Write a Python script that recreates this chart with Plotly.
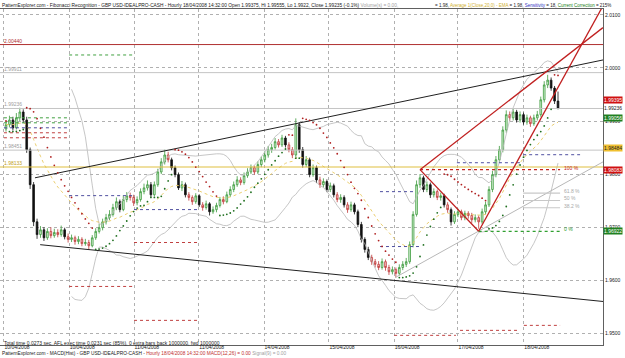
import plotly.graph_objects as go
import numpy as np

# ---------------- data ----------------
bar_index = list(range(161))
opens = [1.9885,1.9893,1.9902,1.9887,1.9906,1.9917,1.9902,1.9846,1.9780,1.9710,
1.9686,1.9695,1.9680,1.9692,1.9684,1.9690,1.9686,1.9695,1.9682,1.9677,
1.9680,1.9673,1.9677,1.9669,1.9671,1.9665,1.9680,1.9692,1.9699,1.9710,
1.9718,1.9724,1.9737,1.9748,1.9733,1.9752,1.9759,1.9756,1.9746,1.9752,
1.9767,1.9774,1.9780,1.9761,1.9780,1.9804,1.9823,1.9836,1.9827,1.9812,
1.9799,1.9774,1.9780,1.9761,1.9756,1.9748,1.9759,1.9742,1.9737,1.9744,
1.9729,1.9733,1.9741,1.9752,1.9748,1.9761,1.9771,1.9780,1.9789,1.9784,
1.9797,1.9804,1.9812,1.9804,1.9818,1.9827,1.9836,1.9846,1.9850,1.9861,
1.9855,1.9868,1.9855,1.9846,1.9836,1.9893,1.9846,1.9818,1.9827,1.9799,
1.9812,1.9789,1.9780,1.9786,1.9771,1.9778,1.9761,1.9752,1.9756,1.9742,
1.9733,1.9742,1.9729,1.9705,1.9677,1.9658,1.9643,1.9635,1.9630,1.9624,
1.9635,1.9624,1.9616,1.9620,1.9613,1.9624,1.9630,1.9635,1.9667,1.9724,
1.9780,1.9793,1.9771,1.9780,1.9761,1.9767,1.9756,1.9759,1.9742,1.9733,
1.9710,1.9724,1.9729,1.9718,1.9726,1.9722,1.9714,1.9718,1.9710,1.9729,
1.9742,1.9771,1.9799,1.9827,1.9846,1.9883,1.9912,1.9906,1.9917,1.9902,
1.9912,1.9898,1.9906,1.9895,1.9906,1.9912,1.9940,1.9968,1.9977,1.9962,
1.99375]
closes = [1.9893,1.9902,1.9887,1.9906,1.9917,1.9902,1.9846,1.9780,1.9710,1.9686,
1.9695,1.9680,1.9692,1.9684,1.9690,1.9686,1.9695,1.9682,1.9677,1.9680,
1.9673,1.9677,1.9669,1.9671,1.9665,1.9680,1.9692,1.9699,1.9710,1.9718,
1.9724,1.9737,1.9748,1.9733,1.9752,1.9759,1.9756,1.9746,1.9752,1.9767,
1.9774,1.9780,1.9761,1.9780,1.9804,1.9823,1.9836,1.9827,1.9812,1.9799,
1.9774,1.9780,1.9761,1.9756,1.9748,1.9759,1.9742,1.9737,1.9744,1.9729,
1.9733,1.9741,1.9752,1.9748,1.9761,1.9771,1.9780,1.9789,1.9784,1.9797,
1.9804,1.9812,1.9804,1.9818,1.9827,1.9836,1.9846,1.9850,1.9861,1.9855,
1.9868,1.9855,1.9846,1.9836,1.9893,1.9846,1.9818,1.9827,1.9799,1.9812,
1.9789,1.9780,1.9786,1.9771,1.9778,1.9761,1.9752,1.9756,1.9742,1.9733,
1.9742,1.9729,1.9705,1.9677,1.9658,1.9643,1.9635,1.9630,1.9624,1.9635,
1.9624,1.9616,1.9620,1.9613,1.9624,1.9630,1.9635,1.9667,1.9724,1.9780,
1.9793,1.9771,1.9780,1.9761,1.9767,1.9756,1.9759,1.9742,1.9733,1.9710,
1.9724,1.9729,1.9718,1.9726,1.9722,1.9714,1.9718,1.9710,1.9729,1.9742,
1.9771,1.9799,1.9827,1.9846,1.9883,1.9912,1.9906,1.9917,1.9902,1.9912,
1.9898,1.9906,1.9895,1.9906,1.9912,1.9940,1.9968,1.9977,1.9962,1.99375,
1.99235]
highs = [1.9900,1.9910,1.9908,1.9915,1.9925,1.9922,1.9908,1.9850,1.9785,1.9716,
1.9702,1.9700,1.9698,1.9700,1.9697,1.9696,1.9703,1.9699,1.9688,1.9686,
1.9684,1.9683,1.9681,1.9678,1.9676,1.9685,1.9698,1.9706,1.9716,1.9725,
1.9732,1.9744,1.9756,1.9752,1.9760,1.9766,1.9765,1.9761,1.9758,1.9773,
1.9782,1.9788,1.9785,1.9786,1.9810,1.9830,1.9846,1.9842,1.9831,1.9816,
1.9803,1.9787,1.9784,1.9766,1.9760,1.9764,1.9762,1.9747,1.9750,1.9747,
1.9739,1.9746,1.9757,1.9758,1.9767,1.9777,1.9786,1.9796,1.9794,1.9803,
1.9811,1.9818,1.9816,1.9824,1.9833,1.9843,1.9853,1.9857,1.9868,1.9866,
1.9874,1.9872,1.9860,1.9851,1.9905,1.9898,1.9851,1.9834,1.9831,1.9818,
1.9816,1.9795,1.9792,1.9790,1.9784,1.9782,1.9766,1.9762,1.9760,1.9747,
1.9748,1.9746,1.9733,1.9710,1.9681,1.9663,1.9648,1.9640,1.9636,1.9641,
1.9639,1.9629,1.9626,1.9624,1.9630,1.9636,1.9642,1.9673,1.9730,1.9788,
1.9800,1.9797,1.9786,1.9784,1.9773,1.9771,1.9765,1.9763,1.9747,1.9737,
1.9730,1.9735,1.9733,1.9731,1.9730,1.9727,1.9724,1.9722,1.9735,1.9748,
1.9777,1.9806,1.9834,1.9853,1.9890,1.9920,1.9918,1.9923,1.9921,1.9918,
1.9916,1.9912,1.9910,1.9912,1.9919,1.9946,1.9975,1.9987,1.9982,1.9966,
1.99555]
lows = [1.9880,1.9888,1.9882,1.9884,1.9900,1.9896,1.9840,1.9772,1.9702,1.9678,
1.9680,1.9674,1.9676,1.9679,1.9680,1.9681,1.9682,1.9677,1.9671,1.9672,
1.9667,1.9668,1.9664,1.9665,1.9658,1.9662,1.9676,1.9688,1.9694,1.9705,
1.9713,1.9720,1.9732,1.9728,1.9730,1.9747,1.9750,1.9740,1.9741,1.9748,
1.9762,1.9769,1.9756,1.9758,1.9776,1.9800,1.9818,1.9822,1.9807,1.9794,
1.9770,1.9768,1.9756,1.9750,1.9742,1.9744,1.9738,1.9731,1.9733,1.9722,
1.9725,1.9728,1.9737,1.9743,1.9745,1.9757,1.9766,1.9776,1.9779,1.9780,
1.9793,1.9800,1.9799,1.9800,1.9813,1.9822,1.9831,1.9840,1.9846,1.9850,
1.9851,1.9850,1.9841,1.9830,1.9832,1.9840,1.9812,1.9813,1.9794,1.9795,
1.9783,1.9774,1.9775,1.9766,1.9766,1.9756,1.9747,1.9746,1.9737,1.9727,
1.9729,1.9724,1.9700,1.9671,1.9652,1.9638,1.9629,1.9624,1.9619,1.9620,
1.9618,1.9610,1.9611,1.9605,1.9609,1.9619,1.9625,1.9631,1.9662,1.9720,
1.9774,1.9766,1.9766,1.9755,1.9756,1.9751,1.9750,1.9737,1.9727,1.9703,
1.9706,1.9719,1.9713,1.9713,1.9716,1.9708,1.9709,1.9697,1.9706,1.9724,
1.9738,1.9766,1.9794,1.9822,1.9841,1.9878,1.9900,1.9901,1.9897,1.9897,
1.9893,1.9893,1.9889,1.9891,1.9901,1.9908,1.9935,1.9962,1.9957,1.9932,
1.9922]

date_pos = [-0.6, 18.3, 37.1, 55.9, 74.8, 93.6, 112.5, 131.0, 150.1]
date_labels = ["10/04/2008", "10/04/2008", "11/04/2008", "11/04/2008", "14/04/2008",
               "15/04/2008", "16/04/2008", "17/04/2008", "18/04/2008"]
price_ticks = [1.95, 1.96, 1.97, 1.98, 1.99, 2.00, 2.01]

# trend channel (bar index, price)
upper_line = ([8.4, 173.04], [1.9793, 2.0015])
lower_line = ([9.9, 173.04], [1.9667, 1.9560])
# fibonacci swing and projections
fib_high = (120, 1.98083)
fib_low = (137, 1.96922)
proj_from_high_end = (173.04, 2.0076)
proj_from_low_end = (173.04, 2.0117)
fib_levels = [1.0, 0.618, 0.5, 0.382, 0.0]
fib_names = ["100 %", "61.8 %", "50 %", "38.2 %", "0 %"]
gray_ray = ([112.8, 173.04], [1.9605, 1.9823])

# horizontal reference levels
level_red = 2.00440
level_yellow = 1.98133
levels_gray = [1.99911, 1.98451]
last_price = 1.99236

# daily pivot segments: start bar, end bar, price, kind
pivot_start = [-0.6, -0.6, -0.6, -0.6, -0.6, 18.3, 18.3, 18.3, 37.1, 37.1, 37.1,
               108.4, 108.4, 112.5, 130.7, 149.9, 131.6, 150.1]
pivot_end = [18.3, 18.3, 18.3, 18.3, 18.3, 37.1, 37.1, 37.1, 55.9, 55.9, 55.9,
             118.0, 120.0, 130.4, 149.9, 166.4, 149.0, 160.6]
pivot_price = [1.99060, 1.98966, 1.98872, 1.98778, 1.98684, 2.00244, 1.97594, 1.95883,
               1.97331, 1.96711, 1.95244, 1.97669, 1.96635, 1.94962, 1.98214, 1.98365,
               1.95056, 1.95150]
pivot_kind = ["R", "R", "P", "S", "S", "R", "P", "S", "P", "S", "S", "P", "P", "S", "P", "P", "S", "S"]
pivot_colors = {"R": "#40a040", "P": "#5050a0", "S": "#c04040"}

# right-axis price boxes
box_prices = [1.99395, 1.99236, 1.99056, 1.98484, 1.98083, 1.96922]
box_kind = ["red", "plain", "green", "yellow", "red", "green"]

# ---------------- derived indicators ----------------
c = np.array(closes); h = np.array(highs); l = np.array(lows); o = np.array(opens)
n = len(c)
win = 20
up = np.full(n, np.nan); dn = np.full(n, np.nan)
for i in range(win - 1, n):
    seg = c[i - win + 1:i + 1]
    m = seg.mean(); sd = seg.std()
    up[i] = m + 2 * sd; dn[i] = m - 2 * sd
ema = np.zeros(n); k = 2 / (win + 1); ema[0] = c[0]
for i in range(1, n):
    ema[i] = c[i] * k + ema[i - 1] * (1 - k)

sar = np.zeros(n); trend = np.zeros(n, dtype=int)
af = 0.02; bull = False; ep = l[0]; sar[0] = h[0]; trend[0] = -1
for i in range(1, n):
    s = sar[i - 1] + af * (ep - sar[i - 1])
    if bull:
        s = min(s, l[i - 1], l[max(i - 2, 0)])
        if l[i] < s:
            bull = False; s = ep; ep = l[i]; af = 0.02
        elif h[i] > ep:
            ep = h[i]; af = min(af + 0.02, 0.2)
    else:
        s = max(s, h[i - 1], h[max(i - 2, 0)])
        if h[i] > s:
            bull = True; s = ep; ep = h[i]; af = 0.02
        elif l[i] < ep:
            ep = l[i]; af = min(af + 0.02, 0.2)
    sar[i] = s; trend[i] = 1 if bull else -1

# ---------------- figure ----------------
fig = go.Figure()
xr = [-1.74, 173.04]
NONE = dict(hoverinfo="skip")

for band in (up, dn):
    fig.add_trace(go.Scatter(x=bar_index, y=band, mode="lines",
                             line=dict(color="#b8b8b8", width=0.8), **NONE))
fig.add_trace(go.Scatter(x=bar_index, y=ema, mode="lines",
                         line=dict(color="#e8c860", width=0.9, dash="dot"), **NONE))

for x0, x1, p, kd in zip(pivot_start, pivot_end, pivot_price, pivot_kind):
    fig.add_trace(go.Scatter(x=[x0, x1], y=[p, p], mode="lines",
                             line=dict(color=pivot_colors[kd], width=1, dash="dot"), **NONE))

fig.add_trace(go.Scatter(x=xr, y=[level_red] * 2, mode="lines",
                         line=dict(color="#b03030", width=1), **NONE))
for lv in levels_gray + [last_price]:
    fig.add_trace(go.Scatter(x=xr, y=[lv] * 2, mode="lines",
                             line=dict(color="#c4c4c4", width=1), **NONE))
fig.add_trace(go.Scatter(x=xr, y=[level_yellow] * 2, mode="lines",
                         line=dict(color="#e0c040", width=1.2), **NONE))

for ln in (upper_line, lower_line):
    fig.add_trace(go.Scatter(x=ln[0], y=ln[1], mode="lines",
                             line=dict(color="#202020", width=1), **NONE))

fh_x, fh_y = fib_high; fl_x, fl_y = fib_low
fig.add_trace(go.Scatter(x=gray_ray[0], y=gray_ray[1], mode="lines",
                         line=dict(color="#b8b8b8", width=1), **NONE))
for f, name in zip(fib_levels, fib_names):
    p = fl_y + f * (fh_y - fl_y)
    if f == 1.0:
        col, x0, dash, tc = "#c02020", fh_x, "dot", "#c02020"
    elif f == 0.0:
        col, x0, dash, tc = "#30a030", fl_x, "dot", "#30a030"
    else:
        col, x0, dash, tc = "#c8c8c8", 149.9, "solid", "#a8a8a8"
    fig.add_trace(go.Scatter(x=[x0, 160.6], y=[p, p], mode="lines",
                             line=dict(color=col, width=1.2, dash=dash), **NONE))
    fig.add_annotation(x=161.2, y=p, text=name, showarrow=False, xanchor="left",
                       yanchor="middle", yshift=2, font=dict(size=5, color=tc))
fig.add_trace(go.Scatter(x=[fh_x, fl_x], y=[fh_y, fl_y], mode="lines",
                         line=dict(color="#c02020", width=1.3), **NONE))
fig.add_trace(go.Scatter(x=[fh_x, proj_from_high_end[0]], y=[fh_y, proj_from_high_end[1]], mode="lines",
                         line=dict(color="#c02020", width=1.3), **NONE))
fig.add_trace(go.Scatter(x=[fl_x, proj_from_low_end[0]], y=[fl_y, proj_from_low_end[1]], mode="lines",
                         line=dict(color="#c02020", width=1.3), **NONE))

# candles: up = green, big down = black, small down = red/pink
body = np.abs(c - o)
big_dn = [i for i in range(n) if c[i] < o[i] and body[i] >= 0.0012]
small_dn = [i for i in range(n) if c[i] < o[i] and body[i] < 0.0012]
ups = [i for i in range(n) if c[i] >= o[i]]
def candle(idx, line_col, fill_col):
    return go.Candlestick(x=idx, open=[opens[i] for i in idx], high=[highs[i] for i in idx],
                          low=[lows[i] for i in idx], close=[closes[i] for i in idx],
                          increasing=dict(line=dict(color=line_col, width=0.8), fillcolor=fill_col),
                          decreasing=dict(line=dict(color=line_col, width=0.8), fillcolor=fill_col),
                          whiskerwidth=0, hoverinfo="skip")
fig.add_trace(candle(ups, "#3c9a3c", "#d8f2d8"))
fig.add_trace(candle(big_dn, "#101010", "#101010"))
fig.add_trace(candle(small_dn, "#c03838", "#f4c8c8"))

sar_x_up = [i for i in range(n) if trend[i] == 1]
sar_x_dn = [i for i in range(n) if trend[i] == -1]
fig.add_trace(go.Scatter(x=sar_x_up, y=[sar[i] for i in sar_x_up], mode="markers",
                         marker=dict(color="#207020", size=1.8), **NONE))
fig.add_trace(go.Scatter(x=sar_x_dn, y=[sar[i] for i in sar_x_dn], mode="markers",
                         marker=dict(color="#b02020", size=1.8), **NONE))

for lv, col in [(level_red, "#b03030"), (levels_gray[0], "#a0a0a0"), (last_price, "#a0a0a0"),
                (levels_gray[1], "#a0a0a0"), (level_yellow, "#c0a020")]:
    fig.add_annotation(x=xr[0], y=lv, text=f"{lv:.5f}", showarrow=False, xanchor="left",
                       yanchor="bottom", xshift=2, yshift=-1, font=dict(size=5, color=col))

box_style = {"red": ("#d01010", "white"), "plain": (None, "#202020"),
             "green": ("#208020", "white"), "yellow": ("#f0c030", "#202020")}
for p, kd in zip(box_prices, box_kind):
    bg, fc = box_style[kd]
    fig.add_annotation(xref="paper", x=1.0, y=p, text=f"{p:.5f}", showarrow=False, xanchor="left",
                       xshift=0, font=dict(size=5, color=fc), bgcolor=bg, borderpad=0)

fig.update_layout(
    width=625, height=358, margin=dict(l=0, r=22, t=9, b=13),
    paper_bgcolor="white", plot_bgcolor="white", showlegend=False,
    font=dict(family="Liberation Sans, Arial, sans-serif", size=5, color="#202020"),
    xaxis=dict(range=xr, rangeslider=dict(visible=False), tickmode="array",
               tickvals=date_pos, ticktext=date_labels, ticks="", showgrid=True,
               gridcolor="#b0b0b0", griddash="dot", gridwidth=1, zeroline=False,
               showline=True, linecolor="#606060", mirror=True, tickfont=dict(size=5),
               ticklabelposition="outside right", ticklabelstandoff=-3),
    yaxis=dict(range=[1.9478, 2.0111], side="right", tickmode="array", tickvals=price_ticks,
               ticktext=[f"{v:.4f}" for v in price_ticks], showgrid=True, gridcolor="#b0b0b0",
               griddash="dot", zeroline=False, showline=True, linecolor="#606060", mirror=True,
               tickfont=dict(size=5), ticks=""),
)

fig.add_annotation(xref="paper", yref="paper", x=0, y=1, yanchor="bottom", xanchor="left", showarrow=False,
                   text="PatternExplorer.com - Fibonacci Recognition - GBP USD-IDEALPRO-CASH - Hourly 18/04/2008 14:32:00 Open 1.99375, Hi 1.99555, Lo 1.9922, Close 1.99235 (-0.1%) <span style='color:#a0a0a0'>Volume(s) = 0.00,</span>",
                   font=dict(size=4.8), yshift=-1)
fig.add_annotation(xref="paper", yref="paper", x=613 / 603, y=1, yanchor="bottom", xanchor="right", showarrow=False,
                   text="= 1.98, <span style='color:#d0b030'>Average 1(Close,20,0) - EMA</span> = 1.98, <span style='color:#3030c0'>Sensitivity</span> = 18, <span style='color:#208020'>Current Correction</span> = 215%",
                   font=dict(size=4.5), yshift=-1)
fig.add_annotation(xref="paper", yref="paper", x=0, y=0, yanchor="bottom", xanchor="left", showarrow=False,
                   text="Total time 0.0273 sec, AFL exec time 0.0231 sec (85%), 0 extra bars back 1000000, fwd 1000000",
                   font=dict(size=5), xshift=2, yshift=-3)
fig.add_annotation(xref="paper", yref="paper", x=0, y=-0.039, yanchor="bottom", xanchor="left", showarrow=False,
                   text="PatternExplorer.com - MACD(Hist) - GBP USD-IDEALPRO-CASH - <span style='color:#c03030'>Hourly 18/04/2008 14:32:00 MACD(12,26) = 0.00</span> <span style='color:#a0a0a0'>Signal(9) = 0.00</span>",
                   font=dict(size=4.8))

fig.write_html("out.html")
